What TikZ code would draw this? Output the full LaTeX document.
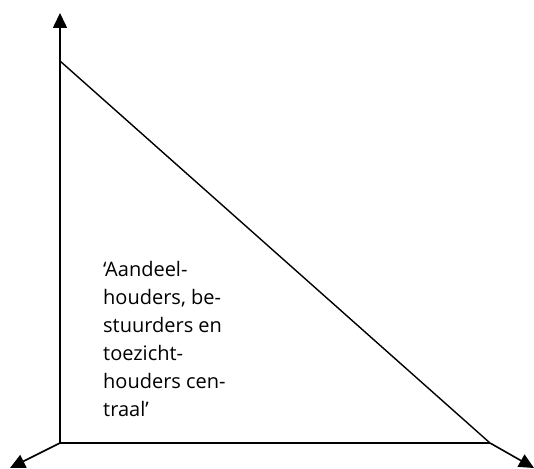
\documentclass[tikz,border=0pt]{standalone}
\usepackage{fontspec}
\setmainfont{Open Sans}
\usetikzlibrary{arrows.meta}
\begin{document}
\begin{tikzpicture}[x=1pt,y=1pt,
  axis/.style={line width=1.6pt,-{Triangle[length=15pt,width=14pt]}},
  edge/.style={line width=1.4pt},
  label/.style={align=left,inner sep=0pt,anchor=north west,font=\fontsize{20}{28}\selectfont}]
\useasboundingbox (0,0) rectangle (534,468);
\coordinate (O) at (60,25);
\coordinate (T) at (60,455);
\coordinate (D) at (60,407);
\coordinate (R) at (490,25);
\coordinate (BL) at (10,0);
\coordinate (BR) at (534,0);
\draw[axis] (O) -- (T);
\draw[axis] (O) -- (BL);
\draw[axis] (R) -- (BR);
\draw[edge] (O) -- (R);
\draw[edge] (D) -- (R);
\node[label] (txt) at (103,207) {‘Aandeel-\\houders, be-\\stuurders en\\toezicht-\\houders cen-\\traal’};
\end{tikzpicture}
\end{document}
